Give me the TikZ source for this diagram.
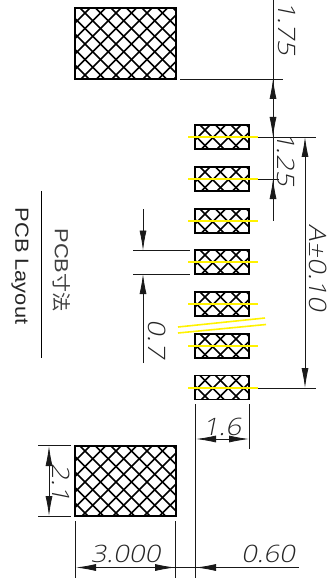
\documentclass[tikz,border=0pt]{standalone}
\usepackage{fontspec}
\usetikzlibrary{arrows.meta}
\newfontfamily\cadfont[FakeSlant=0.2,FakeStretch=1.15]{Open Sans Light}
\newfontfamily\cjkfont{Noto Sans CJK JP}
\setsansfont[FakeStretch=1.15]{Liberation Sans}
\tikzset{
  padline/.style={black,line width=1.7pt},
  hatchline/.style={black,line width=1.6pt},
  centerline/.style={yellow,line width=1.6pt},
  dimline/.style={black!90,line width=0.8pt},
  dimtip/.style={-{Latex[length=20pt,width=7pt]}},
  dimlabel/.style={inner sep=0pt,text=black!85,font=\cadfont\fontsize{24}{24}\selectfont}
}
% One hatched pad: left, top, right, bottom
\newcommand{\hatchpad}[4]{
  \begin{scope}
    \clip (#1,#2) rectangle (#3,#4);
    \foreach \k in {-8,...,14} {
      \draw[hatchline] ({#1+5+\k*15.5},#2) -- ++(120,120);
      \draw[hatchline] ({#1+15+\k*15.5},#2) -- ++(-120,120);
    }
  \end{scope}
  \draw[padline] (#1,#2) rectangle (#3,#4);
}
\begin{document}
\begin{tikzpicture}[x=1pt,y=-1pt]
  % Boundary
  \path[use as bounding box] (0,0) rectangle (335,585);
  % Large pads
  \hatchpad{75}{8}{176}{79}
  \hatchpad{75}{446}{176}{516}
  % Small pads
  \foreach \t/\m in {125/137,167/179,209/221,250/262,292/304,334/346,375.5/388} {
    \hatchpad{195}{\t}{249}{\t+24}
    \draw[centerline] (188,\m) -- (258,\m);
  }
  % Break marks
  \draw[centerline] (178,327) -- (265,318);
  \draw[centerline] (178,333) -- (266,324.5);
  % Extension lines
  \draw[dimline] (180,79) -- (283,79);
  \draw[dimline] (258,137) -- (316,137);
  \draw[dimline] (258,179) -- (279,179);
  \draw[dimline] (258,388) -- (316,388);
  \draw[dimline] (133,250.5) -- (190,250.5);
  \draw[dimline] (133,274) -- (190,274);
  \draw[dimline] (38,445.5) -- (71,445.5);
  \draw[dimline] (38,516) -- (71,516);
  \draw[dimline] (75,521) -- (75,578);
  \draw[dimline] (175.5,521) -- (175.5,578);
  \draw[dimline] (195,404) -- (195,578);
  \draw[dimline] (249,404) -- (249,449);
  % Right side dimensions
  \draw[dimline] (273,0) -- (273,221);
  \draw[dimline,dimtip] (273,108) -- (273,79);
  \draw[dimline,dimtip] (273,108) -- (273,137);
  \draw[dimline,dimtip] (273,205) -- (273,179);
  \draw[dimline,dimtip] (305,260) -- (305,137);
  \draw[dimline,dimtip] (305,260) -- (305,388);
  % Pitch
  \draw[dimline,dimtip] (143,209) -- (143,250.5);
  \draw[dimline,dimtip] (143,363) -- (143,274);
  % Pad sizes
  \draw[dimline,dimtip] (222,439) -- (196,439);
  \draw[dimline,dimtip] (222,439) -- (249,439);
  \draw[dimline,dimtip] (49,480) -- (49,446);
  \draw[dimline,dimtip] (49,480) -- (49,516);
  \draw[dimline,dimtip] (125,567.5) -- (76,567.5);
  \draw[dimline,dimtip] (125,567.5) -- (175,567.5);
  \draw[dimline] (125,567.5) -- (299,567.5);
  \draw[dimline,dimtip] (240,567.5) -- (196,567.5);
  % Labels
  \node[dimlabel,rotate=-90] (lblA) at (286.5,28.5) {1.75};
  \node[dimlabel,rotate=-90] (lblB) at (286.5,159) {1.25};
  \node[dimlabel,rotate=-90] (lblC) at (318.5,268) {A±0.10};
  \node[dimlabel,rotate=-90] (lblD) at (157,339) {0.7};
  \node[dimlabel,rotate=-90] (lblE) at (61.5,482.5) {2.1};
  \node[dimlabel] (lblF) at (222,426.5) {1.6};
  \node[dimlabel] (lblG) at (125.5,554) {3.000};
  \node[dimlabel] (lblH) at (268,554) {0.60};
  % Title
  \node[inner sep=0pt,rotate=-90,text=black!75,font=\sffamily\fontsize{19}{19}\selectfont] (subtitle) at (62,270) {PCB\cjkfont 寸法};
  \draw[black,line width=1pt] (41.5,191) -- (41.5,358);
  \node[inner sep=0pt,rotate=-90,text=black!85,font=\sffamily\fontsize{19}{19}\selectfont] (title) at (20,266) {PCB Layout};
\end{tikzpicture}
\end{document}
